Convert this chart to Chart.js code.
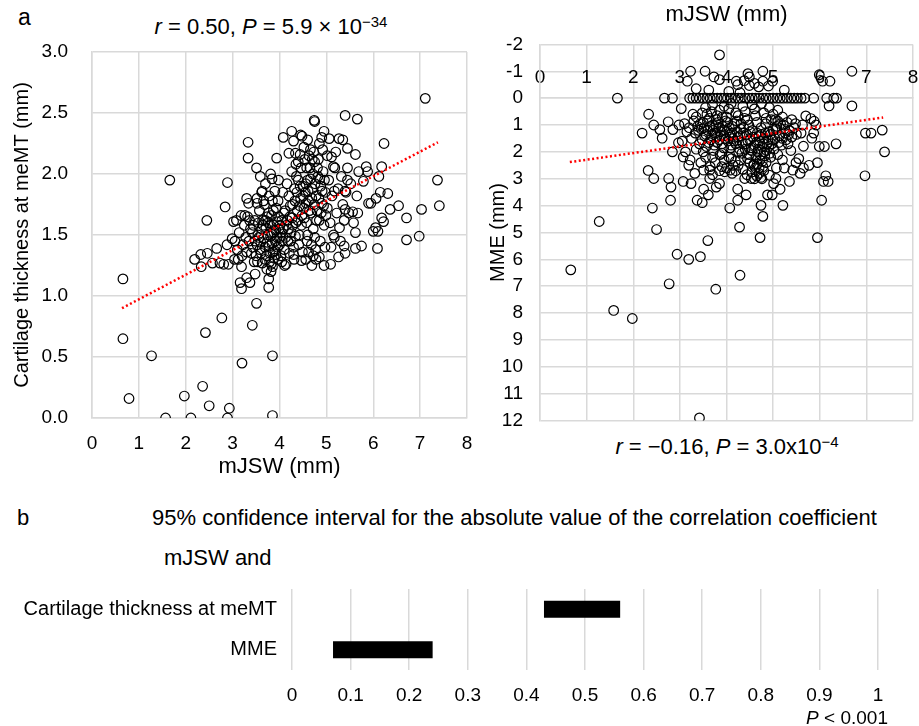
<!DOCTYPE html>
<html>
<head>
<meta charset="utf-8">
<script src="https://cdn.jsdelivr.net/npm/chart.js@4.4.1/dist/chart.umd.min.js"></script>
<style>
  body { margin: 0; width: 919px; height: 726px; background: #fff; position: relative; overflow: hidden;
         font-family: "Liberation Sans", Arial, sans-serif; color: #000; }
  canvas, .txt { position: absolute; }
  .txt { line-height: 1; white-space: nowrap; }
  sup { font-size: 15px; vertical-align: baseline; position: relative; top: -7px; }
</style>
</head>
<body>

<div class="txt" style="left:18px;top:6px;font-size:23px">a</div>
<div class="txt" style="left:71px;top:16px;width:400px;text-align:center;font-size:22px"><i>r</i> = 0.50, <i>P</i> = 5.9 × 10<sup>−34</sup></div>
<canvas id="thick-chart" style="left:0;top:40px;width:475px;height:440px" width="475" height="440"></canvas>

<canvas id="mme-chart" style="left:480px;top:0;width:439px;height:432px" width="439" height="432"></canvas>
<div class="txt" style="left:527px;top:436px;width:400px;text-align:center;font-size:22px"><i>r</i> = −0.16, <i>P</i> = 3.0x10<sup>−4</sup></div>

<div class="txt" style="left:17px;top:507px;font-size:22px">b</div>
<div class="txt" style="left:152px;top:507px;font-size:22px">95% confidence interval for the absolute value of the correlation coefficient</div>
<div class="txt" style="left:164px;top:547px;font-size:22px">mJSW and</div>
<canvas id="ci-chart" style="left:0;top:575px;width:919px;height:151px" width="919" height="151"></canvas>
<div class="txt" style="right:31px;top:708px;font-size:19px"><i>P</i> &lt; 0.001</div>

<script>
// panel a, left: mJSW (x) vs cartilage thickness at meMT (y)
const thickPoints = [
  [0.66,1.14],[0.66,0.65],[0.79,0.16],[1.27,0.51],[1.57,0.00],[1.66,1.95],[1.97,0.18],[2.11,0.00],
  [2.36,0.26],[2.42,0.70],[2.45,1.62],[2.50,0.10],[2.77,0.82],[2.89,1.93],[2.89,0.00],[2.93,0.08],
  [3.20,0.45],[3.42,0.76],[3.51,0.94],[3.85,0.51],[3.85,0.02],
  [2.19,1.30],[2.32,1.34],[2.33,1.24],[2.46,1.35],[2.57,1.27],[2.66,1.39],[2.84,1.73],[2.73,1.27],
  [2.81,1.26],[2.91,1.26],[2.88,1.42],[2.99,1.47],[3.02,1.61],[3.04,1.30],[3.16,1.11],[3.19,1.06],
  [3.19,1.24],[3.30,1.15],[3.37,1.11],[3.33,2.26],[3.33,2.13],[3.51,2.05],[3.59,1.98],[3.30,1.80],
  [3.34,1.76],[3.52,1.80],[3.52,1.76],[3.63,1.86],[3.48,1.18],[3.77,1.07],[3.77,1.14],[3.82,1.20],
  [3.85,1.24],[3.94,2.13],[3.81,2.00],[4.08,2.30],[4.26,2.35],[4.30,2.27],[4.45,2.32],[4.48,2.31],
  [4.20,2.17],[4.34,2.17],[4.74,2.44],[4.75,2.43],[4.95,2.35],[5.06,2.29],[5.27,2.29],[5.35,2.28],
  [5.40,2.48],[5.66,2.45],[5.45,2.21],[5.62,2.16],[6.23,2.25],[7.11,2.62],[7.37,1.95],[7.41,1.74],
  [7.03,1.71],[6.98,1.49],[6.71,1.46],[6.71,1.64],[6.54,1.74],[6.36,1.71],[6.31,1.84],[6.18,1.64],
  [6.22,1.61],[6.15,1.85],[6.18,2.06],[6.12,1.98],[6.09,1.39],[6.00,1.53],[6.05,1.56],[6.10,1.53],
  [6.06,1.80],[5.95,1.76],[5.90,1.76],[5.85,2.06],[5.88,2.02],[5.79,1.94],[5.69,2.02],[5.65,1.82],
  [5.75,1.41],[5.62,1.39],[5.62,1.52],[5.67,1.68],[5.56,1.69],[5.40,1.71],[5.38,1.41],[5.40,1.35],
  [5.26,1.32],[5.17,1.48],[5.09,1.26],[4.95,1.25],[4.69,1.25],[4.78,1.30],[4.47,1.29],[4.30,1.34],
  [4.14,1.26],[4.05,1.28],[5.45,1.95],[5.45,2.05],[5.40,1.86],[5.17,1.86],[5.15,2.06],[5.11,2.14],
  [3.42,1.52],[3.48,1.45],[3.55,1.60],[3.58,1.38],[3.62,1.55],[3.66,1.47],[3.70,1.62],[3.72,1.33],
  [3.75,1.50],[3.78,1.41],[3.80,1.58],[3.83,1.66],[3.86,1.36],[3.88,1.52],[3.91,1.45],[3.94,1.61],
  [3.97,1.30],[3.99,1.55],[3.36,1.62],[3.40,1.35],[3.46,1.28],[3.52,1.42],[3.57,1.70],[3.63,1.27],
  [3.68,1.75],[3.73,1.22],[3.77,1.68],[3.82,1.26],[3.85,1.78],[3.89,1.31],[3.93,1.72],[3.96,1.40],
  [4.02,1.48],[4.05,1.62],[4.08,1.55],[4.10,1.38],[4.12,1.70],[4.15,1.58],[4.18,1.45],[4.20,1.82],
  [4.22,1.65],[4.25,1.52],[4.28,1.75],[4.30,1.40],[4.32,1.88],[4.35,1.60],[4.38,1.70],[4.40,1.95],
  [4.42,1.50],[4.45,1.80],[4.48,1.66],[4.50,1.90],[4.03,1.33],[4.07,1.85],[4.11,1.25],[4.16,1.92],
  [4.21,1.35],[4.26,2.02],[4.31,1.30],[4.36,1.98],[4.41,1.42],[4.46,2.05],[4.49,1.36],
  [4.52,1.72],[4.55,1.85],[4.58,1.60],[4.60,1.95],[4.62,1.78],[4.65,2.05],[4.67,1.68],[4.70,1.88],
  [4.72,1.55],[4.75,2.10],[4.78,1.82],[4.80,1.70],[4.82,1.98],[4.85,1.62],[4.88,1.90],[4.90,1.76],
  [4.93,2.02],[4.95,1.58],[4.98,1.85],[4.54,2.12],[4.59,1.45],[4.63,2.15],[4.68,1.42],[4.73,2.18],
  [4.77,1.38],[4.83,2.12],[4.87,1.45],[4.92,2.20],[4.97,1.40],
  [5.02,1.72],[5.05,1.95],[5.08,1.60],[5.12,1.82],[5.15,1.50],[5.18,2.05],[5.22,1.68],[5.25,1.88],
  [5.28,1.56],[5.32,1.98],[5.35,1.75],[5.38,1.62],[5.42,1.85],[5.48,1.68],[5.52,1.92],[5.58,1.60],
  [5.02,2.15],[5.10,1.40],[5.20,2.18],[5.30,1.45],
  [3.05,1.45],[3.08,1.62],[3.10,1.38],[3.14,1.52],[3.18,1.66],[3.22,1.42],[3.25,1.58],[3.28,1.48],
  [3.32,1.65],[3.12,1.30],[3.20,1.33],[3.26,1.66],[3.30,1.36],
  [3.62,1.85],[3.70,1.92],[3.78,1.82],[3.84,1.96],[3.90,1.86],[3.98,1.95],[3.66,1.78],
  [3.44,1.58],[3.50,1.33],[3.54,1.50],[3.60,1.44],[3.64,1.62],[3.69,1.40],[3.71,1.56],[3.74,1.44],
  [3.76,1.60],[3.79,1.35],[3.81,1.49],[3.84,1.43],[3.87,1.58],[3.90,1.37],[3.92,1.54],[3.95,1.48],
  [3.98,1.65],[4.00,1.42],[4.01,1.58],[4.04,1.52],[4.06,1.45],[4.09,1.68],[4.13,1.48],[4.17,1.62],
  [4.19,1.55],[4.23,1.74],[4.24,1.45],[4.27,1.64],[4.29,1.58],[4.33,1.78],[4.34,1.49],[4.37,1.85],
  [4.39,1.62],[4.43,1.74],[4.44,1.90],[4.47,1.58],[4.51,1.82],[4.53,1.64],[4.56,1.92],[4.57,1.76],
  [4.61,1.86],[4.64,1.70],[4.66,1.96],[4.69,1.80],[4.71,2.00],[4.74,1.75],[4.76,1.92],[4.79,1.62],
  [4.81,2.05],[4.84,1.80],[4.86,1.96],[4.89,1.68],[4.91,1.86],[4.94,1.74],[4.96,1.95],[4.99,1.66],
  [3.35,1.45],[3.38,1.55],[3.43,1.40],[3.47,1.62],[3.53,1.28],[3.56,1.48],[3.61,1.35],[3.65,1.58],
  [3.69,1.30],[3.74,1.65],[3.79,1.28],[3.83,1.52],[3.87,1.70],[3.92,1.34],[3.97,1.78],
  [4.40,2.10],[4.52,2.22],[4.60,2.28],[4.66,2.20],[4.70,2.12],[4.58,2.05],[4.44,2.16],[4.35,2.08],
  [4.85,2.25],[4.90,2.30],[4.56,1.30],[4.62,1.36],[4.72,1.33],[4.85,1.32],[4.60,1.50],[4.75,1.48]
];
const thickTrend = [[0.64, 0.90], [7.38, 2.26]];

// panel a, right: mJSW (x) vs MME (y, reversed)
const mmePoints = [
  [3.85,-1.61],[3.23,-1.00],[3.54,-1.00],[3.16,-0.63],[3.73,-0.79],[3.85,-0.69],[4.21,-0.63],[4.24,-0.50],
  [4.46,-0.91],[4.49,-0.79],[4.78,-1.00],[4.78,-0.63],[4.99,-0.63],[4.69,-0.42],[4.49,-0.47],[4.29,-0.20],
  [5.99,-0.87],[6.06,-0.63],[6.22,-0.63],[6.69,-1.00],[5.24,-0.30],
  [3.35,-0.35],[3.62,-0.30],[4.05,-0.25],[4.38,-0.65],[4.60,-0.55],[4.90,-0.45],
  [1.66,0],[2.67,0],[2.84,0],[3.21,0],[3.28,0],[3.35,0],[3.42,0],[3.50,0],[3.58,0],[3.65,0],[3.72,0],
  [3.80,0],[3.88,0],[3.95,0],[4.02,0],[4.10,0],[4.18,0],[4.25,0],[4.32,0],[4.40,0],[4.48,0],[4.55,0],
  [4.62,0],[4.70,0],[4.78,0],[4.85,0],[4.92,0],[5.00,0],[5.08,0],[5.15,0],[5.22,0],[5.30,0],[5.38,0],
  [5.45,0],[5.52,0],[5.60,0],[5.68,0],[5.87,0],[6.15,0],[6.30,0],[6.36,0],
  [6.20,0.29],[6.69,0.29],[3.03,0.39],[2.33,0.60],[2.19,1.30],[2.44,1.00],[2.57,1.17],[2.62,1.49],
  [2.75,0.88],[2.85,1.17],[2.98,1.00],[2.84,2.00],[2.97,1.66],[3.07,2.19],[2.32,2.69],[2.44,2.99],
  [2.76,2.99],[2.81,3.31],[2.80,3.80],[2.41,4.09],[2.50,4.89],[1.27,4.59],[0.66,6.39],[1.58,7.90],
  [1.98,8.20],[2.77,6.91],[2.94,5.81],[3.19,6.00],[3.44,5.90],[3.60,5.30],[3.77,7.11],[4.29,6.59],
  [4.72,5.19],[5.95,5.19],[3.42,11.90],[4.28,4.80],[4.07,4.09],[4.74,3.99],[4.78,4.40],[5.21,3.99],
  [6.04,3.80],[6.97,2.89],[7.39,2.00],[7.34,1.19],[6.98,1.30],[7.10,1.30],[6.35,1.70],[5.99,1.80],
  [6.10,1.80],[6.13,2.89],[6.08,3.10],[6.18,3.10],[5.95,2.40],[5.81,0.76],[5.70,0.66],[5.88,0.86],
  [5.92,1.00],[5.87,1.30],[5.83,1.49],[5.63,1.00],[5.60,1.30],[5.65,1.79],[5.58,2.80],[5.77,2.50],
  [5.65,2.60],[5.49,2.40],[5.42,2.68],[5.35,3.10],[5.15,3.39],[5.06,2.99],[4.98,3.60],[4.88,3.60],
  [5.01,3.18],[4.92,2.87],[5.07,2.60],[5.24,2.60],[4.42,3.60],[4.24,3.80],[4.24,3.39],[3.78,3.31],
  [3.85,3.18],[3.51,3.39],[3.37,3.80],[3.48,3.89],[3.61,3.60],[3.64,2.99],[3.24,3.18],[3.07,3.10],
  [3.64,2.68],[3.51,2.68],[3.32,2.80],[3.19,2.50],[4.53,2.99],[4.39,2.99],[4.58,2.50],[4.14,2.50],
  [3.96,2.74],[4.08,2.68],
  [3.10,0.95],[3.15,1.25],[3.20,1.10],[3.25,1.50],[3.30,0.85],[3.33,1.30],[3.38,1.05],[3.42,1.70],
  [3.46,1.15],[3.50,0.90],[3.53,1.40],[3.57,1.80],[3.60,1.20],[3.63,0.75],[3.66,1.55],[3.70,1.00],
  [3.72,1.95],[3.75,1.30],[3.78,0.80],[3.80,1.65],[3.83,1.10],[3.86,2.10],[3.88,1.40],[3.91,0.70],
  [3.94,1.85],[3.96,1.20],[3.99,1.50],[4.02,0.90],[4.05,2.20],[4.08,1.35],[4.10,1.75],[4.13,1.05],
  [4.16,1.60],[4.19,2.35],[4.22,0.85],[4.25,1.45],[4.28,1.90],[4.30,1.15],[4.33,2.05],[4.36,1.30],
  [4.39,0.75],[4.42,1.70],[4.45,2.25],[4.48,1.00],[4.50,1.55],[4.53,1.85],[4.56,1.20],[4.59,2.45],
  [4.62,0.65],[4.64,1.65],[4.67,2.00],[4.70,1.40],[4.72,2.30],[4.74,1.10],[4.76,1.80],[4.78,2.55],
  [4.80,1.50],[4.82,2.15],[4.84,0.95],[4.87,1.70],[4.90,1.25],[4.93,2.05],[4.96,0.80],[4.99,1.55],
  [5.02,1.90],[5.06,1.15],[5.10,0.85],[5.14,1.40],[5.18,1.75],[5.22,1.00],[5.26,1.30],[5.30,0.90],
  [5.35,1.20],[5.40,1.45],[5.45,1.10],
  [3.05,1.60],[3.12,2.00],[3.22,2.30],[3.35,1.90],[3.45,2.40],[3.55,2.20],[3.65,2.55],[3.76,2.40],
  [3.85,2.70],[3.95,2.30],[4.00,2.60],[4.12,2.80],[4.25,2.50],[4.35,2.65],[4.55,2.75],[4.65,2.90],
  [4.70,2.60],[4.74,2.95],[4.85,2.40],[4.95,2.20],[5.10,2.10],[5.20,2.30],[5.32,1.70],[5.38,1.95],
  [5.50,1.35],[5.55,2.25],[5.48,0.95],
  [3.28,0.60],[3.48,0.55],[3.68,0.50],[3.85,0.45],[4.05,0.40],[4.20,0.55],[4.40,0.50],[4.60,0.40],
  [4.80,0.55],[5.00,0.60],[5.20,0.70],[5.40,0.80],[3.95,0.30],[4.55,0.25],[4.92,0.35],[3.55,0.35],
  [3.40,1.20],[3.44,0.95],[3.48,1.55],[3.52,1.10],[3.56,1.35],[3.59,0.85],[3.62,1.65],[3.65,1.05],
  [3.68,1.40],[3.71,1.20],[3.74,1.75],[3.77,1.05],[3.79,1.45],[3.82,0.90],[3.84,1.55],[3.87,1.25],
  [3.90,1.70],[3.92,1.05],[3.95,1.40],[3.98,0.85],[4.00,1.25],[4.03,1.60],[4.06,1.10],[4.09,1.85],
  [4.11,1.30],[4.14,1.50],[4.17,0.95],[4.20,1.70],[4.23,1.25],[4.26,2.00],[4.29,1.40],[4.31,0.95],
  [4.34,1.65],[4.37,1.10],[4.40,1.90],[4.43,1.35],[4.46,1.60],[4.49,2.10],[4.51,1.25],[4.54,1.95],
  [4.57,1.45],[4.60,1.75],[4.63,2.20],[4.66,1.30],[4.68,1.90],[4.71,1.60],[4.73,2.10],[4.75,1.35],
  [4.77,2.35],[4.79,1.70],[4.81,2.00],[4.83,1.30],[4.86,1.95],[4.89,1.55],[4.91,1.80],[4.94,1.35],
  [4.97,1.70],[5.00,1.20],[5.04,1.50],[5.08,1.05],[5.12,1.65],[5.16,0.95],[5.20,1.50],[5.24,1.15],
  [5.28,1.55],[5.33,1.35],
  [3.35,0.70],[3.58,0.60],[3.80,0.65],[4.00,0.70],[4.25,0.65],[4.45,0.80],[4.65,0.90],[4.85,0.75],
  [5.05,0.80],[3.70,0.25],[4.10,0.20],[4.35,0.30],[4.75,0.20],[5.10,0.45],
  [3.50,2.00],[3.70,2.20],[3.90,2.05],[4.10,2.25],[4.30,2.30],[4.50,2.40],[4.62,2.60],[4.70,2.80],
  [4.80,2.70],[4.66,2.45],[4.76,3.00],[4.60,3.00],[4.44,2.85],[4.20,2.70],[3.90,2.55],[3.70,2.85]
];
const mmeTrend = [[0.64, 2.38], [7.36, 0.72]];

// panel b: 95% CI of |r|
const ciLabels = ['Cartilage thickness at meMT', 'MME'];
const ciRanges = [[0.43, 0.56], [0.07, 0.24]];

Chart.defaults.font.family = '"Liberation Sans", Arial, sans-serif';
Chart.defaults.color = '#000';

const gridColor = '#d9d9d9';
const toXY = pts => pts.map(([x, y]) => ({ x, y }));

// tick offset done with an invisible tick mark, so ticks.padding stays 0
// (chart.js adds ticks.padding to the chart area padding)
function gridWithGap(gap, show = true) {
    return { display: show, color: gridColor, lineWidth: 1.5, drawTicks: true, tickLength: gap, tickColor: 'rgba(0,0,0,0)' };
}

function scatterSets(points, trend) {
    return [
        {
            type: 'line',
            data: toXY(trend),
            borderColor: '#ff0000',
            borderWidth: 2.5,
            borderDash: [2, 2.5],
            pointRadius: 0,
            fill: false,
            order: 0
        },
        {
            data: toXY(points),
            pointRadius: 4.8,
            borderWidth: 1.2,
            borderColor: '#000',
            backgroundColor: 'rgba(0,0,0,0)',
            order: 1
        }
    ];
}

new Chart(document.getElementById('thick-chart'), {
    type: 'scatter',
    data: { datasets: scatterSets(thickPoints, thickTrend) },
    options: {
        responsive: false,
        animation: false,
        layout: { padding: { top: 12, right: 8, left: 0, bottom: 0 } },
        plugins: { legend: { display: false }, tooltip: { enabled: false } },
        scales: {
            x: {
                type: 'linear', min: 0, max: 8,
                ticks: { stepSize: 1, padding: 0, font: { size: 19 } },
                grid: gridWithGap(14),
                border: { color: gridColor, width: 1.5 },
                title: { display: true, text: 'mJSW (mm)', font: { size: 22 }, padding: 0 },
                afterFit: s => { s.height = 62; }
            },
            y: {
                min: 0, max: 3,
                ticks: { stepSize: 0.5, padding: 0, font: { size: 19 }, callback: v => v.toFixed(1) },
                grid: gridWithGap(24),
                border: { color: gridColor, width: 1.5 },
                title: { display: true, text: 'Cartilage thickness at meMT (mm)', font: { size: 20 }, padding: { top: 10, bottom: 0 } },
                afterFit: s => { s.width = 92; }
            }
        }
    }
});

new Chart(document.getElementById('mme-chart'), {
    type: 'scatter',
    data: { datasets: scatterSets(mmePoints, mmeTrend) },
    options: {
        responsive: false,
        animation: false,
        layout: { padding: { top: 0, right: 5, left: 0, bottom: 7 } },
        plugins: {
            legend: { display: false },
            tooltip: { enabled: false },
            title: {
                display: true, text: 'mJSW (mm)', color: '#000', fullSize: false,
                font: { size: 22, weight: 'normal' }, padding: { top: 2, bottom: 16 }
            }
        },
        scales: {
            x: {
                type: 'linear', position: { y: 0 }, min: 0, max: 8,
                ticks: { stepSize: 1, padding: -32, font: { size: 19 } },
                grid: { color: gridColor, lineWidth: 1.5, drawTicks: false },
                border: { color: gridColor, width: 1.5 },
                afterFit: s => { s.height = 0; }
            },
            y: {
                reverse: true, min: -2, max: 12,
                ticks: { stepSize: 1, padding: 0, autoSkip: false, font: { size: 19 } },
                grid: gridWithGap(17),
                border: { color: gridColor, width: 1.5 },
                title: { display: true, text: 'MME (mm)', font: { size: 20 }, padding: { top: 6, bottom: 0 } },
                afterFit: s => { s.width = 60; }
            }
        }
    }
});

new Chart(document.getElementById('ci-chart'), {
    type: 'bar',
    data: {
        labels: ciLabels,
        datasets: [{
            data: ciRanges,
            backgroundColor: '#000',
            borderWidth: 0,
            barPercentage: 0.42,
            categoryPercentage: 1
        }]
    },
    options: {
        indexAxis: 'y',
        responsive: false,
        animation: false,
        layout: { padding: { top: 14, right: 41, left: 0, bottom: 0 } },
        plugins: { legend: { display: false }, tooltip: { enabled: false } },
        scales: {
            x: {
                min: 0, max: 1,
                ticks: { stepSize: 0.1, padding: 0, font: { size: 19 }, callback: v => String(Math.round(v * 10) / 10) },
                grid: gridWithGap(14),
                border: { display: false },
                afterFit: s => { s.height = 56; }
            },
            y: {
                ticks: { padding: 0, font: { size: 20 } },
                grid: gridWithGap(15, false),
                border: { display: false },
                afterFit: s => { s.width = 292; }
            }
        }
    }
});
</script>
</body>
</html>
